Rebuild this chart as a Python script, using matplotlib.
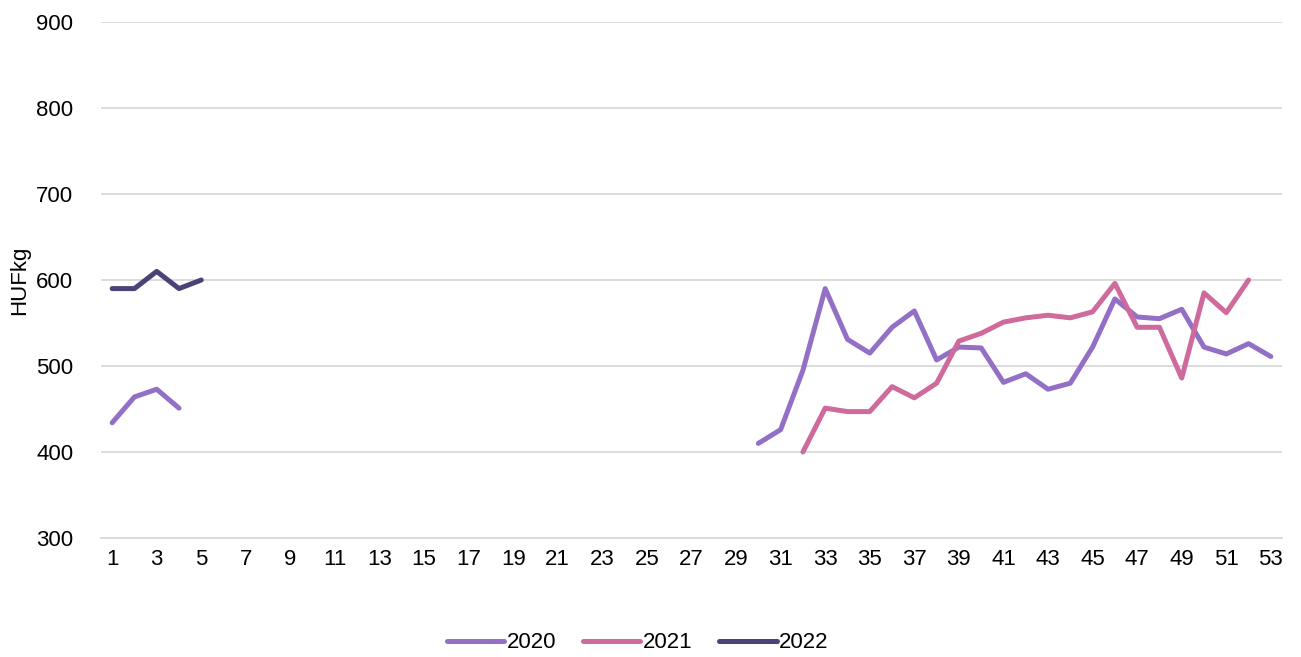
import numpy as np
import matplotlib.pyplot as plt

plt.rcParams['font.family'] = ['Liberation Sans', 'DejaVu Sans']

# weeks 1..53, values in HUF/kg
weeks = np.arange(1, 54)

y2020_start = [434, 464, 473, 451]            # weeks 1-4
y2020_end = [410, 426, 495, 590, 531, 515, 545, 564, 507, 522, 521, 481,
             491, 473, 480, 522, 578, 557, 555, 566, 522, 514, 526, 511]  # weeks 30-53
y2021_end = [400, 451, 447, 447, 476, 463, 480, 529, 538, 551, 556, 559,
             556, 563, 596, 545, 545, 486, 585, 562, 600]  # weeks 32-52
y2022_start = [590, 590, 610, 590, 600]       # weeks 1-5

s2020 = np.full(53, np.nan)
s2020[0:4] = y2020_start
s2020[29:53] = y2020_end
s2021 = np.full(53, np.nan)
s2021[31:52] = y2021_end
s2022 = np.full(53, np.nan)
s2022[0:5] = y2022_start

fig = plt.figure(figsize=(13.01, 6.57), dpi=100)
ax = fig.add_axes([101/1301, 1 - 538/657, (1282-101)/1301, (538-22)/657])

ax.plot(weeks, s2020, color='#9370c6', lw=3.6, label='2020', solid_capstyle='round')
ax.plot(weeks, s2021, color='#cf6a9c', lw=3.6, label='2021', solid_capstyle='round')
ax.plot(weeks, s2022, color='#4b4277', lw=3.6, label='2022', solid_capstyle='round')

ax.set_xlim(0.5, 53.5)
ax.set_ylim(300, 900)
ax.set_yticks(range(300, 901, 100))
ax.set_xticks(range(1, 54, 2))
ax.grid(axis='y', color='#d9d9d9', lw=1.3)
ax.set_axisbelow(True)
for s in ['top', 'right', 'left']:
    ax.spines[s].set_visible(False)
ax.spines['bottom'].set_color('#d9d9d9')
ax.spines['bottom'].set_linewidth(1.3)
ax.tick_params(axis='y', length=0, labelsize=16, pad=20)
ax.tick_params(axis='x', length=0, labelsize=16, pad=8)
ax.set_ylabel('HUFkg', fontsize=16, labelpad=4)

fig.legend(loc='lower center', bbox_to_anchor=(0.49, -0.025), ncol=3, frameon=False,
           fontsize=16, handlelength=2.6, handletextpad=0.1, columnspacing=1.2)

fig.savefig('out.png', dpi=100)
